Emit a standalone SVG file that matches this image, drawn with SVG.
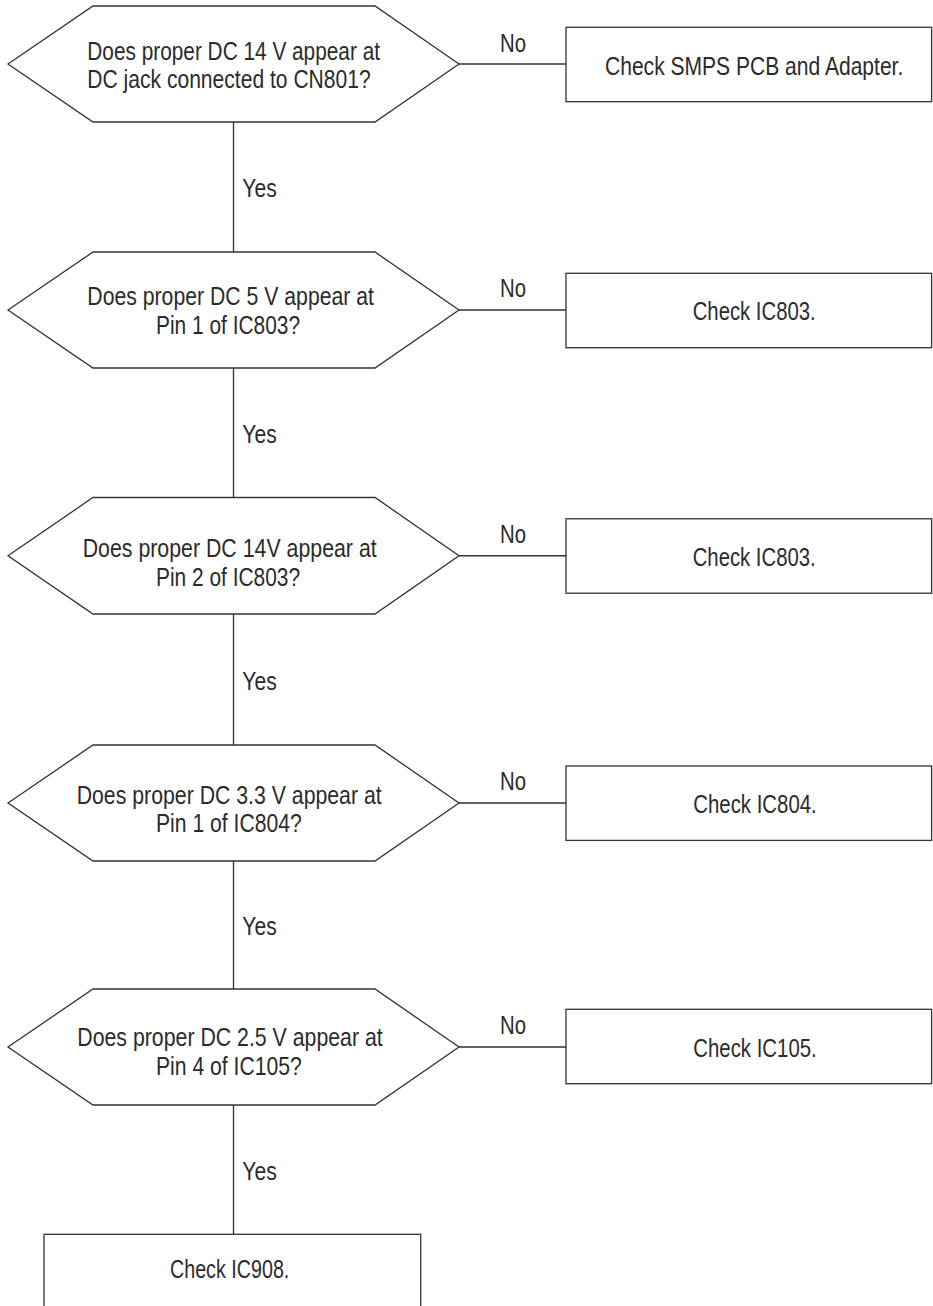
<svg xmlns="http://www.w3.org/2000/svg" width="933" height="1306" viewBox="0 0 933 1306">
<style>
.shape{fill:#fff;stroke:#333;stroke-width:1.3}
.conn{fill:none;stroke:#333;stroke-width:1.3}
text{font-family:"Liberation Sans Narrow","Liberation Sans",Arial,sans-serif;font-size:25px;fill:#2b2b2b;text-anchor:middle}
</style>
<rect width="933" height="1306" fill="#fff"/>
<g id="connectors">
<path class="conn" d="M233.5 122V252M233.5 368V497.5M233.5 614V745M233.5 861V989M233.5 1105V1234.3"/>
<path class="conn" d="M459 64H566M459 310H566M459 555.75H566M459 803H566M459 1047H566"/>
<text x="259.5" y="197" textLength="34.4" lengthAdjust="spacingAndGlyphs">Yes</text>
<text x="259.5" y="443.3" textLength="34.4" lengthAdjust="spacingAndGlyphs">Yes</text>
<text x="259.5" y="689.5" textLength="34.4" lengthAdjust="spacingAndGlyphs">Yes</text>
<text x="259.5" y="935" textLength="34.4" lengthAdjust="spacingAndGlyphs">Yes</text>
<text x="259.5" y="1179.5" textLength="34.4" lengthAdjust="spacingAndGlyphs">Yes</text>
<text x="513" y="51.7" textLength="26" lengthAdjust="spacingAndGlyphs">No</text>
<text x="513" y="297" textLength="26" lengthAdjust="spacingAndGlyphs">No</text>
<text x="513" y="543" textLength="26" lengthAdjust="spacingAndGlyphs">No</text>
<text x="513" y="790" textLength="26" lengthAdjust="spacingAndGlyphs">No</text>
<text x="513" y="1034" textLength="26" lengthAdjust="spacingAndGlyphs">No</text>
</g>
<g id="q1">
<polygon class="shape" points="8,64 93,6 375,6 459,64 375,122 93,122"/>
<text x="233.65" y="59.5" textLength="292.7" lengthAdjust="spacingAndGlyphs">Does proper DC 14 V appear at</text>
<text x="229" y="87.5" textLength="283.4" lengthAdjust="spacingAndGlyphs">DC jack connected to CN801?</text>
</g>
<g id="a1">
<rect class="shape" x="566" y="27.3" width="365.6" height="74.4"/>
<text x="754.15" y="75" font-size="24" textLength="298.3" lengthAdjust="spacingAndGlyphs">Check SMPS PCB and Adapter.</text>
</g>
<g id="q2">
<polygon class="shape" points="8,310 93,252 375,252 459,310 375,368 93,368"/>
<text x="230.65" y="305" textLength="286.7" lengthAdjust="spacingAndGlyphs">Does proper DC 5 V appear at</text>
<text x="228" y="334" textLength="144" lengthAdjust="spacingAndGlyphs">Pin 1 of IC803?</text>
</g>
<g id="a2">
<rect class="shape" x="566" y="273.3" width="365.6" height="74.4"/>
<text x="754.2" y="320.3" textLength="123" lengthAdjust="spacingAndGlyphs">Check IC803.</text>
</g>
<g id="q3">
<polygon class="shape" points="8,555.75 93,497.5 375,497.5 459,555.75 375,614 93,614"/>
<text x="229.7" y="557" textLength="294" lengthAdjust="spacingAndGlyphs">Does proper DC 14V appear at</text>
<text x="228" y="586" textLength="144" lengthAdjust="spacingAndGlyphs">Pin 2 of IC803?</text>
</g>
<g id="a3">
<rect class="shape" x="566" y="518.8" width="365.6" height="74.4"/>
<text x="754.2" y="566" textLength="123" lengthAdjust="spacingAndGlyphs">Check IC803.</text>
</g>
<g id="q4">
<polygon class="shape" points="8,803 93,745 375,745 459,803 375,861 93,861"/>
<text x="229.2" y="804" textLength="305" lengthAdjust="spacingAndGlyphs">Does proper DC 3.3 V appear at</text>
<text x="228.85" y="832" textLength="145.7" lengthAdjust="spacingAndGlyphs">Pin 1 of IC804?</text>
</g>
<g id="a4">
<rect class="shape" x="566" y="766" width="365.6" height="74.4"/>
<text x="755" y="813.3" textLength="123.4" lengthAdjust="spacingAndGlyphs">Check IC804.</text>
</g>
<g id="q5">
<polygon class="shape" points="8,1047 93,989 375,989 459,1047 375,1105 93,1105"/>
<text x="230" y="1046" textLength="305.4" lengthAdjust="spacingAndGlyphs">Does proper DC 2.5 V appear at</text>
<text x="228.85" y="1075" textLength="145.7" lengthAdjust="spacingAndGlyphs">Pin 4 of IC105?</text>
</g>
<g id="a5">
<rect class="shape" x="566" y="1009.3" width="365.6" height="74.4"/>
<text x="755" y="1056.7" textLength="123.4" lengthAdjust="spacingAndGlyphs">Check IC105.</text>
</g>
<g id="end">
<rect class="shape" x="44" y="1234.3" width="376.7" height="90"/>
<text x="229.65" y="1277.7" textLength="119.3" lengthAdjust="spacingAndGlyphs">Check IC908.</text>
</g>
</svg>
